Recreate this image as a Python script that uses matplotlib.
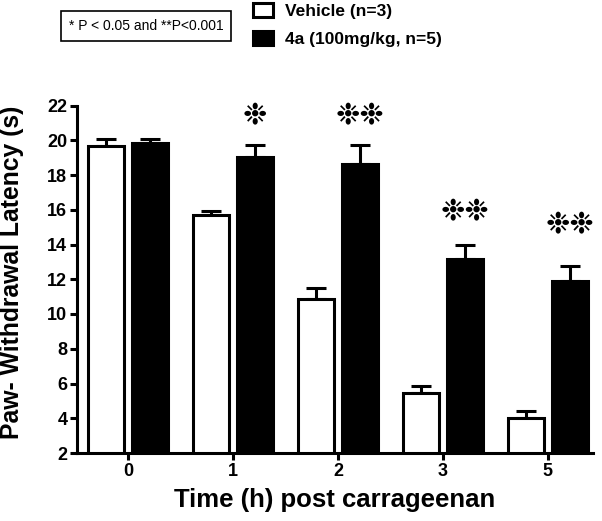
import matplotlib
matplotlib.use("Agg")
import matplotlib.pyplot as plt
from matplotlib.patches import Patch
import numpy as np

plt.rcParams['font.family'] = ['Liberation Sans', 'DejaVu Sans']

time_labels = ["0", "1", "2", "3", "5"]
vehicle_mean = [19.66, 15.68, 10.89, 5.43, 3.99]
vehicle_sem = [0.43, 0.22, 0.60, 0.44, 0.42]
drug_mean = [19.86, 19.03, 18.65, 13.15, 11.89]
drug_sem = [0.22, 0.71, 1.10, 0.85, 0.88]
stars = ["", "*", "**", "**", "**"]
star_y = [None, 21.35, 21.35, 15.85, 15.10]

series_names = ["Vehicle (n=3)", "4a (100mg/kg, n=5)"]
sig_note = "* P < 0.05 and **P<0.001"

fig = plt.figure(figsize=(6.02, 5.21), dpi=100)
ax = fig.add_axes([77/602, 68/521, (593-77)/602, (453-105.5)/521])

x = np.arange(len(time_labels))
w = 0.343
off = 0.21
lw = 2.2

ax.bar(x - off, vehicle_mean, width=w, color="white", edgecolor="black",
       linewidth=lw, zorder=2)
ax.bar(x + off, drug_mean, width=w, color="black", edgecolor="black",
       linewidth=lw, zorder=2)
ax.errorbar(x - off, vehicle_mean, yerr=[np.zeros(len(x)), vehicle_sem], fmt="none",
            ecolor="black", elinewidth=lw, capsize=7.5, capthick=lw, zorder=1)
ax.errorbar(x + off, drug_mean, yerr=[np.zeros(len(x)), drug_sem], fmt="none",
            ecolor="black", elinewidth=lw, capsize=7.5, capthick=lw, zorder=1)

for xi, s, sy in zip(x, stars, star_y):
    if s:
        ax.text(xi + off, sy, s.replace("*", "\u2749"), ha="center", va="center",
                fontsize=21, family=["DejaVu Sans"], color="black")

ax.set_xlim(-0.486, 4.43)
ax.set_ylim(2, 22)
ax.set_yticks(np.arange(2, 23, 2))
ax.set_xticks(x)
ax.set_xticklabels(time_labels)
for sp in ["top", "right"]:
    ax.spines[sp].set_visible(False)
for sp in ["left", "bottom"]:
    ax.spines[sp].set_linewidth(lw)
ax.tick_params(axis="both", width=lw, length=5, labelsize=13, pad=2)
for lab in ax.get_xticklabels() + ax.get_yticklabels():
    lab.set_fontweight("bold")

ax.set_ylabel("Paw- Withdrawal Latency (s)", fontsize=17.8, fontweight="bold")
ax.yaxis.set_label_coords(-(77 - 24) / 516, (453 - 272.5) / 347.5)
ax.set_xlabel("Time (h) post carrageenan", fontsize=18.5, fontweight="bold", labelpad=6)

handles = [Patch(facecolor="white", edgecolor="black", linewidth=lw),
           Patch(facecolor="black", edgecolor="black", linewidth=lw)]
leg = fig.legend(handles, series_names, loc="upper left", bbox_to_anchor=(237/602, 1.024),
                 frameon=False, prop={"weight": "bold", "size": 12.5},
                 handlelength=1.15, handleheight=0.85, handletextpad=0.7, labelspacing=0.7)

fig.text(146/602, 1 - 26/521, sig_note, ha="center", va="center", fontsize=10,
         bbox=dict(boxstyle="square,pad=0.55", facecolor="white", edgecolor="black", linewidth=1.2))

fig.savefig("out.png", dpi=100)
